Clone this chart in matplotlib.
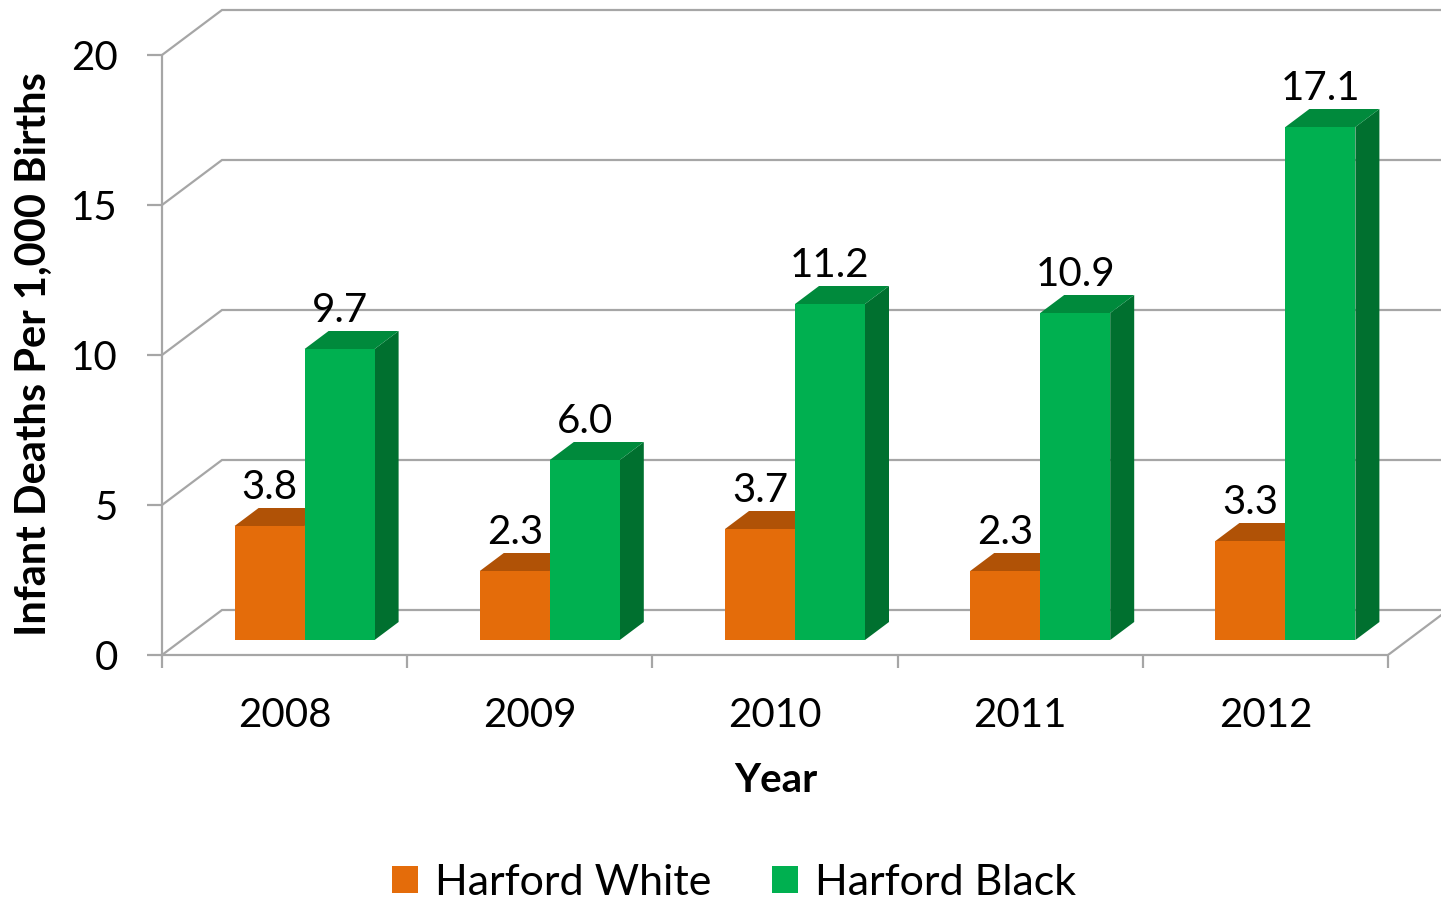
import matplotlib
matplotlib.use('Agg')
import matplotlib.pyplot as plt
from matplotlib.patches import Polygon, Patch

plt.rcParams['font.family'] = ['Lato', 'DejaVu Sans']

# data
years = ['2008', '2009', '2010', '2011', '2012']
white = [3.8, 2.3, 3.7, 2.3, 3.3]
black = [9.7, 6.0, 11.2, 10.9, 17.1]
series_names = ['Harford White', 'Harford Black']

# face colours (front, top, side)
colors = [('#E46C0A', '#B05206', '#8E4205'),
          ('#00B050', '#008A3C', '#00702F')]
grid_col = '#A6A6A6'

# pseudo-3d geometry (category units / value units)
PX_CAT = 245.2
PX_VAL = 30.0
DX = 60 / PX_CAT      # full depth of the floor
DY = 45 / PX_VAL
F = 1 / 3             # depth of bar front plane
T = 0.4               # bar thickness as fraction of depth
W = 70 / PX_CAT       # bar width

fig = plt.figure(figsize=(14.41, 9), dpi=100)
ax = fig.add_axes([162 / 1441, 245 / 900, 1279 / 1441, 650 / 900])
xmax = 1279 / PX_CAT
ax.set_xlim(0, xmax)
ax.set_ylim(0, 650 / PX_VAL)

# back wall / floor grid
for v in range(0, 25, 5):
    ax.plot([0, DX, xmax], [v, v + DY, v + DY], color=grid_col, lw=1.6, zorder=1,
            solid_joinstyle='miter')
ax.plot([len(years), len(years) + DX], [0, DY], color=grid_col, lw=1.6, zorder=1)

# bars
for i in range(len(years)):
    for k, vals in enumerate([white, black]):
        v = vals[i]
        x0 = i + 0.5 - W + k * W + F * DX
        y0 = F * DY
        dx, dy = T * DX, T * DY
        front_c, top_c, side_c = colors[k]
        side = [(x0 + W, y0), (x0 + W + dx, y0 + dy), (x0 + W + dx, y0 + v + dy), (x0 + W, y0 + v)]
        top = [(x0, y0 + v), (x0 + W, y0 + v), (x0 + W + dx, y0 + v + dy), (x0 + dx, y0 + v + dy)]
        front = [(x0, y0), (x0 + W, y0), (x0 + W, y0 + v), (x0, y0 + v)]
        z = 3 + k
        ax.add_patch(Polygon(side, closed=True, fc=side_c, ec='none', zorder=z))
        ax.add_patch(Polygon(top, closed=True, fc=top_c, ec='none', zorder=z))
        ax.add_patch(Polygon(front, closed=True, fc=front_c, ec='none', zorder=z))
        ax.text(x0 + W / 2, v + 1.8, f'{v:.1f}', ha='center', va='center',
                fontsize=29, color='black', zorder=10)

# axes styling
for s in ['top', 'right']:
    ax.spines[s].set_visible(False)
for s in ['left', 'bottom']:
    ax.spines[s].set_color(grid_col)
    ax.spines[s].set_linewidth(1.6)
ax.spines['left'].set_bounds(0, 20)
ax.spines['bottom'].set_bounds(0, len(years))

ax.set_yticks(range(0, 25, 5))
ax.tick_params(axis='y', length=10.8, width=1.6, color=grid_col, pad=21, labelsize=29)
ax.set_xticks(range(len(years) + 1))
ax.set_xticklabels([])
ax.tick_params(axis='x', which='major', length=9.4, width=1.6, color=grid_col)
ax.set_xticks([i + 0.5 for i in range(len(years))], minor=True)
ax.set_xticklabels(years, minor=True)
ax.tick_params(axis='x', which='minor', length=0, pad=30, labelsize=29)

ax.set_ylabel('Infant Deaths Per 1,000 Births', fontsize=30, fontweight='bold')
ax.yaxis.set_label_coords((34 - 162) / 1279, (655 - 354) / 650)
ax.yaxis.label.set_va('center')
ax.set_xlabel('Year', fontsize=29, fontweight='bold')
ax.xaxis.set_label_coords((776 - 162) / 1279, (655 - 780) / 650)
ax.xaxis.label.set_va('center')

handles = [Patch(fc=colors[0][0], ec='none'), Patch(fc=colors[1][0], ec='none')]
fig.legend(handles, series_names, loc='center', bbox_to_anchor=(734 / 1441, 17 / 900),
           ncol=2, frameon=False, fontsize=31, handlelength=0.6, handleheight=0.6,
           handletextpad=0.4, columnspacing=1.4, borderpad=0, borderaxespad=0)

fig.savefig('out.png', dpi=100, facecolor='white')
